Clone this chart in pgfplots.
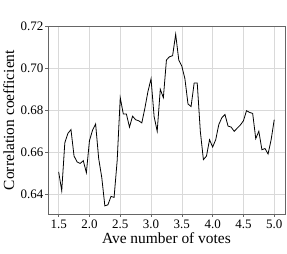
\documentclass[border=0pt]{standalone}
\usepackage{fontspec}
\setmainfont{Liberation Serif}
\usepackage{pgfplots}
\pgfplotsset{compat=1.18}
\begin{document}
\begin{tikzpicture}
\begin{axis}[
  at={(0pt,0pt)}, anchor=south west,
  scale only axis, width=238pt, height=189pt,
  xmin=1.325, xmax=5.175, ymin=0.6305, ymax=0.7202,
  xtick={1.5,2.0,2.5,3.0,3.5,4.0,4.5,5.0},
  ytick={0.64,0.66,0.68,0.70,0.72},
  xticklabel style={/pgf/number format/.cd,fixed,fixed zerofill,precision=1},
  yticklabel style={/pgf/number format/.cd,fixed,fixed zerofill,precision=2},
  /pgf/number format/assume math mode=true,
  scaled y ticks=false,
  tick label style={font=\fontsize{13}{14}\selectfont},
  label style={font=\fontsize{15.5}{16}\selectfont},
  xlabel={Ave number of votes},
  ylabel={Correlation coefficient},
  grid=major,
  grid style={gray!30, line width=0.6pt},
  axis line style={gray!80!black, line width=0.6pt},
  tick style={gray!80!black, line width=0.6pt},
  tick align=outside,
  major tick length=2.5pt,
  xtick pos=bottom, ytick pos=left,
  xticklabel shift=0pt,
  yticklabel shift=-1.5pt,
  xlabel style={yshift=3pt},
  ylabel style={yshift=-0.5pt},
]
\addplot[black, line width=0.8pt, mark=none] coordinates {
(1.50,0.6507)(1.55,0.6417)(1.60,0.6645)(1.65,0.6690)(1.70,0.6708)
(1.75,0.6582)(1.80,0.6554)(1.85,0.6547)(1.90,0.6560)(1.95,0.6503)
(2.00,0.6655)(2.05,0.6705)(2.10,0.6735)(2.15,0.6570)(2.20,0.6480)
(2.25,0.6345)(2.30,0.6350)(2.35,0.6390)(2.40,0.6385)(2.45,0.6560)
(2.50,0.6860)(2.55,0.6782)(2.60,0.6782)(2.65,0.6720)(2.70,0.6772)
(2.75,0.6755)(2.80,0.6750)(2.85,0.6740)(2.90,0.6810)(2.95,0.6890)
(3.00,0.6950)(3.05,0.6770)(3.10,0.6700)(3.15,0.6900)(3.20,0.6860)
(3.25,0.7040)(3.30,0.7055)(3.35,0.7060)(3.40,0.7162)(3.45,0.7040)
(3.50,0.7010)(3.55,0.6950)(3.60,0.6830)(3.65,0.6818)(3.70,0.6930)
(3.75,0.6930)(3.80,0.6700)(3.85,0.6565)(3.90,0.6582)(3.95,0.6660)
(4.00,0.6625)(4.05,0.6660)(4.10,0.6732)(4.15,0.6765)(4.20,0.6780)
(4.25,0.6725)(4.30,0.6720)(4.35,0.6700)(4.40,0.6715)(4.45,0.6730)
(4.50,0.6750)(4.55,0.6798)(4.60,0.6790)(4.65,0.6785)(4.70,0.6665)
(4.75,0.6700)(4.80,0.6612)(4.85,0.6618)(4.90,0.6592)(4.95,0.6660)
(5.00,0.6755)
};
\end{axis}
\path (-47pt,-39pt) rectangle (240pt,215pt);
\end{tikzpicture}
\end{document}
